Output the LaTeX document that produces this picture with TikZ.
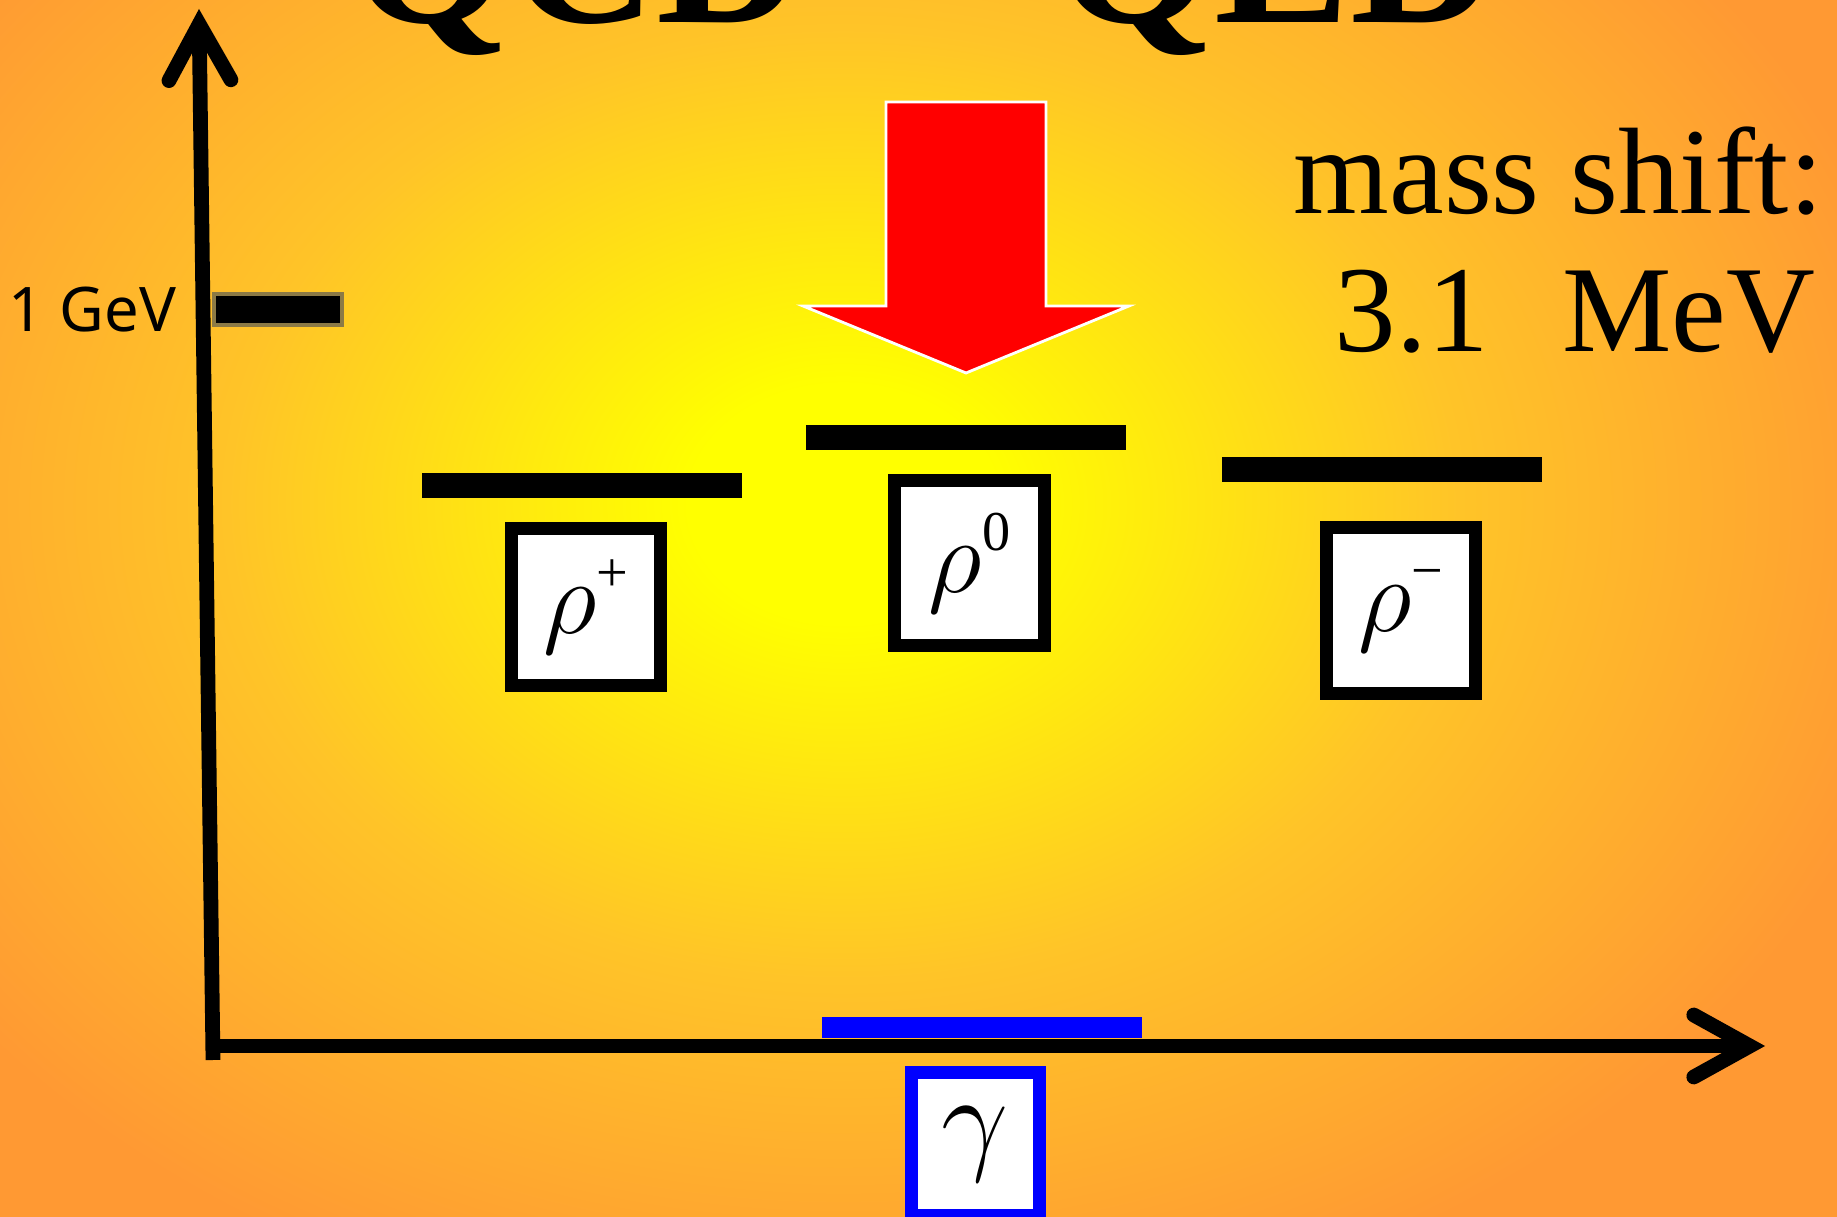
\documentclass[tikz,border=0pt]{standalone}
\usepackage{fix-cm}
\usepackage{fontspec}
\setmainfont{Liberation Serif}
\newfontfamily\gevfont{Noto Sans}
\usetikzlibrary{arrows.meta,positioning}
\definecolor{glowYellow}{RGB}{255,255,0}
\definecolor{glowAmber}{RGB}{255,196,40}
\definecolor{glowOrange}{RGB}{255,153,51}
\definecolor{tickEdge}{RGB}{140,122,70}
\definecolor{shiftRed}{RGB}{255,0,0}
\definecolor{photonBlue}{RGB}{0,0,255}
\pgfdeclareradialshading{glow}{\pgfpoint{0bp}{0bp}}{color(0bp)=(glowYellow); color(3.5bp)=(glowYellow); color(14bp)=(glowAmber); color(25bp)=(glowOrange); color(50bp)=(glowOrange)}
\newcommand{\chg}[1]{\raisebox{12pt}{\fontsize{16}{16}\selectfont #1}}

\begin{document}
\begin{tikzpicture}[font=\fontsize{35}{40}\selectfont,
    axis/.style={line width=4.2pt,
                 -{Straight Barb[length=5.6mm,width=6.2mm,line cap=round,line join=miter]}},
    level/.style={fill=black,inner sep=0pt,minimum width=3.2cm,minimum height=2.5mm},
    pbox/.style={draw=black,fill=white,line width=3.7pt,inner sep=0pt,
                 minimum width=1.49cm,minimum height=1.57cm,
                 font=\fontsize{30}{32}\selectfont}]
  \useasboundingbox (0,0) rectangle (18.37,12.16);
  \fill[glowOrange] (-0.1,-0.1) rectangle (18.47,12.26);
  \begin{scope}
    \clip (-0.1,-0.1) rectangle (18.47,12.26);
    \shade[shading=glow] (8.43,7.12) ellipse (11cm and 8.5cm);
  \end{scope}

  % title, mostly above the page
  \node[font=\fontsize{58}{60}\selectfont\bfseries,anchor=base west,inner sep=0pt] (qcd) at (3.5,11.93) {QCD};
  \node[font=\fontsize{58}{60}\selectfont\bfseries,anchor=base west,inner sep=0pt] (qed) at (10.55,11.93) {QED};

  \fill[shiftRed,draw=white,line width=0.8pt] (8.86,11.14) -- (10.46,11.14) -- (10.46,9.10)
    -- (11.29,9.10) -- (9.66,8.43) -- (8.03,9.10) -- (8.86,9.10) -- cycle;

  \node[anchor=base east,inner sep=0pt] (shiftHead) at (18.24,10.02) {mass shift:};
  \node[anchor=base east,inner sep=0pt] (shiftVal) at (18.16,8.64) {3.1\hspace{0.6em}MeV};

  \node[level] (lvlP) at (5.82,7.305) {};
  \node[level] (lvlZ) at (9.66,7.785) {};
  \node[level] (lvlM) at (13.82,7.46) {};
  \node[level,fill=photonBlue,minimum height=2.1mm] (lvlG) at (9.82,1.88) {};

  \node[pbox,below=2.3mm of lvlP,xshift=0.4mm] (rhoP) {$\rho$\chg{+}};
  \node[pbox,below=2.3mm of lvlZ,xshift=0.35mm,minimum width=1.5cm,minimum height=1.65cm] (rhoZ)
    {$\rho$\chg{0}};
  \node[pbox,below=3.8mm of lvlM,xshift=1.9mm,minimum height=1.66cm] (rhoM) {$\rho$\chg{−}};
  \node[pbox,draw=photonBlue,below=2.7mm of lvlG,xshift=-0.65mm,minimum width=1.28cm,
        minimum height=1.43cm,font=\fontsize{34}{36}\selectfont] (gam) {$\gamma$};

  \node[draw=tickEdge,fill=black,line width=1.3pt,inner sep=0pt,minimum width=1.28cm,
        minimum height=0.31cm] (gevTick) at (2.78,9.065) {};
  \node[font=\gevfont\fontsize{17.5}{20}\selectfont,inner sep=0pt,left=3.5mm of gevTick] (gevLbl) {1 GeV};

  \coordinate (yFoot) at (2.13,1.56);
  \coordinate (yTip) at (1.99,12.07);
  \coordinate (xFoot) at (2.13,1.70);
  \coordinate (xTip) at (17.65,1.70);
  \draw[axis] (yFoot) -- (yTip);
  \draw[axis] (xFoot) -- (xTip);
\end{tikzpicture}
\end{document}
